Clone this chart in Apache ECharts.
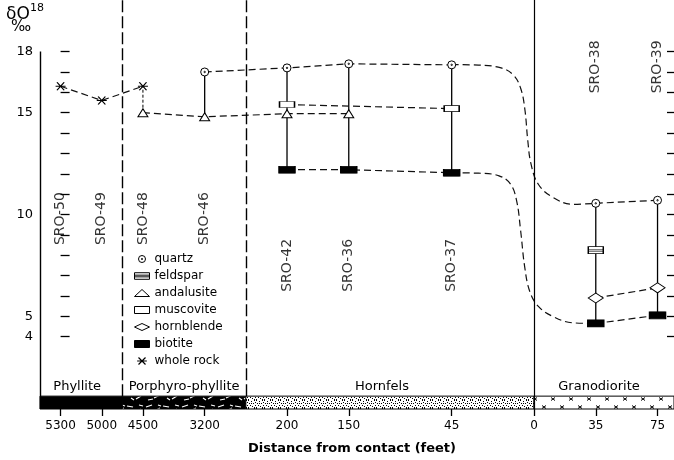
<!DOCTYPE html>
<html>
<head>
<meta charset="utf-8">
<script src="https://cdn.jsdelivr.net/npm/echarts@6/dist/echarts.min.js"></script>
<style>
  html, body { margin: 0; padding: 0; background: #fff; }
  #chart { width: 674px; height: 460px; }
</style>
</head>
<body>
<div id="chart"></div>
<script>
// ---- distance axis (schematic, one slot per grid unit) ----
const distanceLabels = ['5300', '5000', '4500', '3200', '200', '150', '45', '0', '35', '75'];
const distanceSlots  = [0, 2, 4, 7, 11, 14, 19, 23, 26, 29];

// ---- samples ----
const samples     = ['SRO-50', 'SRO-49', 'SRO-48', 'SRO-46', 'SRO-42', 'SRO-36', 'SRO-37', 'SRO-38', 'SRO-39'];
const sampleSlots = [0, 2, 4, 7, 11, 14, 19, 26, 29];

// ---- δO18 (‰) by mineral; null = not analysed ----
const quartz     = [null, null, null, 17.0, 17.2, 17.4, 17.35, 10.55, 10.7];
const feldspar   = [null, null, null, null, null, null, null, 8.25, null];
const andalusite = [null, null, 15.0, 14.8, 14.95, 14.95, null, null, null];
const muscovite  = [null, null, null, null, 15.4, null, 15.2, null, null];
const hornblende = [null, null, null, null, null, null, null, 5.9, 6.4];
const biotite    = [null, null, null, null, 12.2, 12.2, 12.05, 4.65, 5.05];
const wholeRock  = [16.3, 15.6, 16.3, null, null, null, null, null, null];

// ---- inferred profiles across the contact ----
const quartzTrend = [[19, 17.36], [20.3, 17.34], [21.4, 17.2], [22.0, 16.85], [22.35, 16.2],
  [22.55, 15.2], [22.7, 13.6], [22.85, 12.5], [23.2, 11.5], [23.9, 10.85],
  [24.9, 10.5], [26, 10.55]];
const biotiteTrend = [[19, 12.05], [20.3, 12.03], [21.3, 11.9], [21.85, 11.5], [22.15, 10.7],
  [22.35, 9.2], [22.55, 7.4], [22.8, 6.2], [23.2, 5.5], [23.9, 5.0],
  [24.9, 4.68], [26, 4.65]];

// ---- rock units along the traverse ----
const unitNames  = ['Phyllite', 'Porphyro-phyllite', 'Hornfels', 'Granodiorite'];
const unitBounds = [-1, 3, 9, 23, 29.8];
const contactSlot = 23;

// ---- y ticks ----
const yTickValues  = [4, 5, 6, 7, 8, 9, 10, 11, 12, 13, 14, 15, 16, 17, 18];
const yLabelValues = [4, 5, 10, 15, 18];

// ---- layout constants ----
const FONT = 'DejaVu Sans';
const Y_MIN = 0.448, Y_MAX = 20.535, BAND_TOP = 1.08, Y_TOP_TICK = 18;
const X_MIN = -1, X_MAX = 29.8;
// height (in ‰ units) at which each sample name is written
const sampleLabelRow = [9.8, 9.8, 9.8, 9.8, 7.5, 7.5, 7.5, 17.25, 17.25];
// horizontal nudge (px) of each unit name above the strip
const unitLabelShift = [-4, 0, -8, -5];

// ---- symbols ----
const ringPath = 'path://M-4,0A4,4,0,1,0,4,0A4,4,0,1,0,-4,0Z M-0.7,0A0.7,0.7,0,1,0,0.7,0A0.7,0.7,0,1,0,-0.7,0Z';
const feldsparPath = 'path://M0,0L16,0L16,7L0,7Z M0,2.6L16,2.6 M0,4.4L16,4.4';
const starPath = 'path://M-5,0L5,0 M-3.6,-3.6L3.6,3.6 M-3.6,3.6L3.6,-3.6';

const minerals = [
  { name: 'quartz',     values: quartz,     symbol: ringPath,     size: [8, 8],   fill: '#fff', bw: 1 },
  { name: 'feldspar',   values: feldspar,   symbol: feldsparPath, size: [15, 7],  fill: '#fff', bw: 1 },
  { name: 'andalusite', values: andalusite, symbol: 'triangle',   size: [10, 8],  fill: '#fff', bw: 1 },
  { name: 'muscovite',  values: muscovite,  symbol: 'rect',       size: [15, 6],  fill: '#fff', bw: 1 },
  { name: 'hornblende', values: hornblende, symbol: 'diamond',    size: [15, 10], fill: '#fff', bw: 1 },
  { name: 'biotite',    values: biotite,    symbol: 'rect',       size: [16, 7],  fill: '#000', bw: 1 },
  { name: 'whole rock', values: wholeRock,  symbol: starPath,     size: [10, 8],  fill: '#000', bw: 1.2 }
];

// points of one mineral; the run is broken at the contact, where the inferred profile takes over
function mineralPoints(values) {
  const pts = [];
  let prev = null;
  values.forEach((v, i) => {
    if (v == null) return;
    const s = sampleSlots[i];
    if (prev != null && prev < contactSlot && s > contactSlot) pts.push([contactSlot, '-']);
    pts.push([s, v]);
    prev = s;
  });
  return pts;
}

// vertical range bars for each sample
const rangeBars = [];
samples.forEach((s, i) => {
  const vals = [quartz[i], feldspar[i], andalusite[i], muscovite[i], hornblende[i], biotite[i]].filter(v => v != null);
  if (vals.length >= 2) rangeBars.push([sampleSlots[i], Math.min(...vals), Math.max(...vals), 0]);
  if (wholeRock[i] != null && vals.length) {
    const near = vals.reduce((a, b) => Math.abs(b - wholeRock[i]) < Math.abs(a - wholeRock[i]) ? b : a);
    rangeBars.push([sampleSlots[i], Math.min(near, wholeRock[i]), Math.max(near, wholeRock[i]), 1]);
  }
});

// ---- fill textures for the rock-unit strip ----
function tile(w, h, draw) {
  const c = document.createElement('canvas');
  c.width = w; c.height = h;
  draw(c.getContext('2d'));
  return { image: c, repeat: 'repeat' };
}
const phylliteFill = '#000';
const porphyroFill = tile(36, 13, g => {
  g.fillStyle = '#000'; g.fillRect(0, 0, 36, 13);
  g.strokeStyle = '#fff'; g.lineWidth = 1.2;
  [[2, 4, 8, 2], [10, 8, 16, 5], [19, 3, 25, 4], [28, 9, 33, 6], [4, 10, 9, 9], [14, 2, 17, 3], [23, 8, 26, 10], [31, 2, 35, 3]]
    .forEach(([a, b, c, d]) => { g.beginPath(); g.moveTo(a, b); g.lineTo(c, d); g.stroke(); });
});
const hornfelsFill = tile(8, 8, g => {
  g.fillStyle = '#fff'; g.fillRect(0, 0, 8, 8);
  g.fillStyle = '#000';
  [[0, 0], [3, 1], [6, 0], [1, 3], [5, 3], [2, 5], [7, 5], [4, 6], [0, 7], [6, 7], [3, 3], [7, 2]]
    .forEach(([x, y]) => g.fillRect(x, y, 1, 1));
});
const granoFill = tile(18, 13, g => {
  g.fillStyle = '#fff'; g.fillRect(0, 0, 18, 13);
  g.strokeStyle = '#000'; g.lineWidth = 1;
  const mark = (x, y) => {
    g.beginPath();
    g.moveTo(x - 2, y - 1.5); g.lineTo(x + 2, y + 1.5);
    g.moveTo(x - 2, y + 1.5); g.lineTo(x + 2, y - 1.5);
    g.stroke();
  };
  mark(4, 4); mark(13, 9);
});
const unitFills = [phylliteFill, porphyroFill, hornfelsFill, granoFill];

// ---- series ----
const series = [];

// sample names + frame lines + rock-unit strip
series.push({
  type: 'scatter',
  name: 'samples',
  z: 1,
  silent: true,
  symbolSize: 1,
  itemStyle: { color: 'rgba(0,0,0,0)' },
  data: samples.map((s, i) => ({ name: s, value: [sampleSlots[i], sampleLabelRow[i]] })),
  label: {
    show: true, formatter: '{b}', rotate: 90, position: 'inside',
    fontFamily: FONT, fontSize: 14, color: '#000'
  },
  markArea: {
    silent: true,
    itemStyle: { borderColor: '#000', borderWidth: 1 },
    label: { show: true, position: 'top', distance: 3, fontFamily: FONT, fontSize: 13, color: '#000' },
    data: unitNames.map((n, i) => [
      { name: n, coord: [unitBounds[i], Y_MIN], itemStyle: { color: unitFills[i] },
        label: { offset: [unitLabelShift[i], 0] } },
      { coord: [unitBounds[i + 1], BAND_TOP] }
    ])
  },
  markLine: {
    silent: true,
    symbol: ['none', 'none'],
    label: { show: false },
    data: [
      [{ coord: [unitBounds[1], BAND_TOP], lineStyle: { type: [12, 4], width: 1.4, color: '#000' } }, { coord: [unitBounds[1], Y_MAX] }],
      [{ coord: [unitBounds[2], BAND_TOP], lineStyle: { type: [12, 4], width: 1.4, color: '#000' } }, { coord: [unitBounds[2], Y_MAX] }],
      [{ coord: [contactSlot, Y_MIN], lineStyle: { type: 'solid', width: 1.2, color: '#000' } }, { coord: [contactSlot, Y_MAX] }],
      [{ coord: [X_MIN, Y_MIN], lineStyle: { type: 'solid', width: 1.4, color: '#000' } }, { coord: [X_MIN, Y_TOP_TICK] }]
    ]
  }
});

// range bars
series.push({
  type: 'custom',
  name: 'ranges',
  z: 2,
  silent: true,
  data: rangeBars,
  encode: { x: 0, y: [1, 2] },
  renderItem: (params, api) => {
    const p1 = api.coord([api.value(0), api.value(1)]);
    const p2 = api.coord([api.value(0), api.value(2)]);
    const dashed = api.value(3) === 1;
    return {
      type: 'line',
      shape: { x1: p1[0], y1: p1[1], x2: p2[0], y2: p2[1] },
      style: { stroke: '#000', lineWidth: dashed ? 1 : 1.3, lineDash: dashed ? [3, 2] : null }
    };
  }
});

// inferred profiles
[quartzTrend, biotiteTrend].forEach((pts, k) => {
  series.push({
    type: 'line',
    name: k === 0 ? 'quartz profile' : 'biotite profile',
    z: 2,
    silent: true,
    data: pts,
    showSymbol: false,
    smooth: 0.4,
    lineStyle: { color: '#111', width: 1.2, type: [7, 4] }
  });
});

// minerals
minerals.forEach(m => {
  series.push({
    type: 'line',
    name: m.name,
    z: 3,
    silent: true,
    data: mineralPoints(m.values),
    connectNulls: false,
    symbol: m.symbol,
    symbolSize: m.size,
    symbolKeepAspect: false,
    showAllSymbol: true,
    itemStyle: { color: m.fill, borderColor: '#000', borderWidth: m.bw },
    lineStyle: { color: '#111', width: 1.2, type: [7, 4] },
    emphasis: { disabled: true }
  });
});

const chart = echarts.init(document.getElementById('chart'), null, { renderer: 'canvas' });
chart.setOption({
  animation: false,
  backgroundColor: '#fff',
  textStyle: { fontFamily: FONT },
  grid: { left: 40, right: -3, top: 0, bottom: 44, containLabel: false },
  xAxis: {
    type: 'value', min: X_MIN, max: X_MAX,
    axisLine: { show: false },
    splitLine: { show: false },
    axisTick: { show: true, customValues: distanceSlots, length: 7, lineStyle: { color: '#000', width: 1.3 } },
    axisLabel: {
      customValues: distanceSlots,
      formatter: v => distanceLabels[distanceSlots.indexOf(v)],
      margin: 11, color: '#000', fontSize: 12, fontFamily: FONT
    },
    name: 'Distance from contact (feet)',
    nameLocation: 'middle', nameGap: 33,
    nameTextStyle: { fontWeight: 'bold', fontSize: 13, color: '#000', fontFamily: FONT, padding: [0, 10, 0, 0] }
  },
  yAxis: [
    {
      type: 'value', min: Y_MIN, max: Y_MAX, position: 'left',
      axisLine: { show: false },
      splitLine: { show: false },
      axisTick: { show: true, inside: true, length: 9, customValues: yTickValues, lineStyle: { color: '#000', width: 1.3 } },
      axisLabel: { customValues: yLabelValues, margin: 7, color: '#000', fontSize: 13, fontFamily: FONT }
    },
    {
      type: 'value', min: Y_MIN, max: Y_MAX, position: 'right',
      axisLine: { show: false },
      splitLine: { show: false },
      axisTick: { show: true, inside: true, length: 7, customValues: yTickValues, lineStyle: { color: '#000', width: 1.3 } },
      axisLabel: { show: false }
    }
  ],
  legend: {
    orient: 'vertical', left: 129, top: 247,
    itemWidth: 15, itemHeight: 7, itemGap: 3,
    selectedMode: false,
    textStyle: { fontFamily: FONT, fontSize: 12, color: '#000', lineHeight: 14 },
    data: minerals.map(m => ({
      name: m.name,
      icon: m.symbol,
      itemStyle: { color: m.fill, borderColor: '#000', borderWidth: m.bw }
    }))
  },
  graphic: [
    { type: 'text', left: 6, top: 6, style: { text: 'δO', font: '17px "DejaVu Sans"', fill: '#000' } },
    { type: 'text', left: 30, top: 3, style: { text: '18', font: '11px "DejaVu Sans"', fill: '#000' } },
    { type: 'text', left: 11, top: 20, style: { text: '‰', font: '15px "DejaVu Sans"', fill: '#000' } }
  ],
  series: series
});
</script>
</body>
</html>
